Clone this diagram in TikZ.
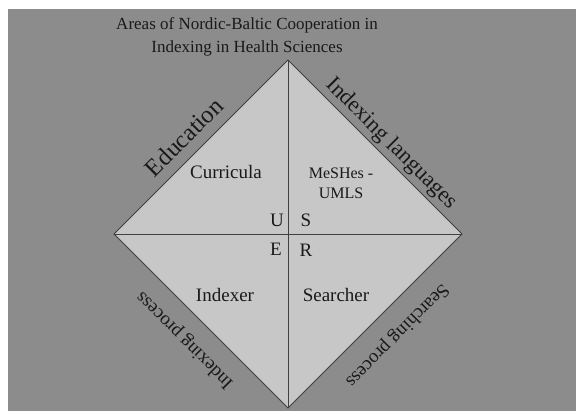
\documentclass[tikz,border=0pt]{standalone}
\usepackage{fontspec}
\setmainfont{Liberation Serif}
\usetikzlibrary{positioning, calc}
\definecolor{bggray}{rgb}{0.55, 0.55, 0.55}
\definecolor{areagray}{rgb}{0.78, 0.78, 0.78}
\definecolor{edgegray}{rgb}{0.25, 0.25, 0.25}

\begin{document}
\begin{tikzpicture}[x=1pt, y=1pt]
        \tikzstyle{label} = [inner sep=0pt, text=black!90, font=\fontsize{19}{21}\selectfont]
        \tikzstyle{side} = [inner sep=0pt, text=black!90, font=\fontsize{19}{21}\selectfont]
        \tikzstyle{bigside} = [side, font=\fontsize{22.5}{24}\selectfont]

        \useasboundingbox (0,0) rectangle (576,411);
        \fill[bggray] (8,0) rectangle (576,402);

        % corners of the diamond
        \coordinate (top) at (288,351);
        \coordinate (left) at (114,177);
        \coordinate (right) at (462,177);
        \coordinate (bottom) at (288,3);

        \filldraw[fill=areagray, draw=edgegray, thick] (top) -- (right) -- (bottom) -- (left) -- cycle;
        \draw[edgegray, thick] (top) -- (bottom);
        \draw[edgegray, thick] (left) -- (right);

        \node[inner sep=0pt, align=center, text=black!90, font=\fontsize{17}{23}\selectfont] (title) at (247,374)
            {Areas of Nordic-Baltic Cooperation in\\Indexing in Health Sciences};

        \node[bigside, rotate=45, font=\fontsize{24.5}{26}\selectfont] (education) at (184,274) {Education};
        \node[bigside, rotate=-45] (languages) at (391,267) {Indexing languages};
        \node[side, rotate=135] (indexproc) at (185,71) {Indexing process};
        \node[side, rotate=225] (searchproc) at (397,76) {Searching process};

        \node[label] (curricula) at (226,239) {Curricula};
        \node[label, align=center, font=\fontsize{16}{20}\selectfont] (mesh) at (341,228) {MeSHes -\\UMLS};
        \node[label] (indexer) at (225,116) {Indexer};
        \node[label] (searcher) at (336,116) {Searcher};

        \node[label] (u) at (277,191) {U};
        \node[label] (s) at (306,191) {S};
        \node[label] (e) at (276,162) {E};
        \node[label] (r) at (306,161) {R};
    \end{tikzpicture}
\end{document}
